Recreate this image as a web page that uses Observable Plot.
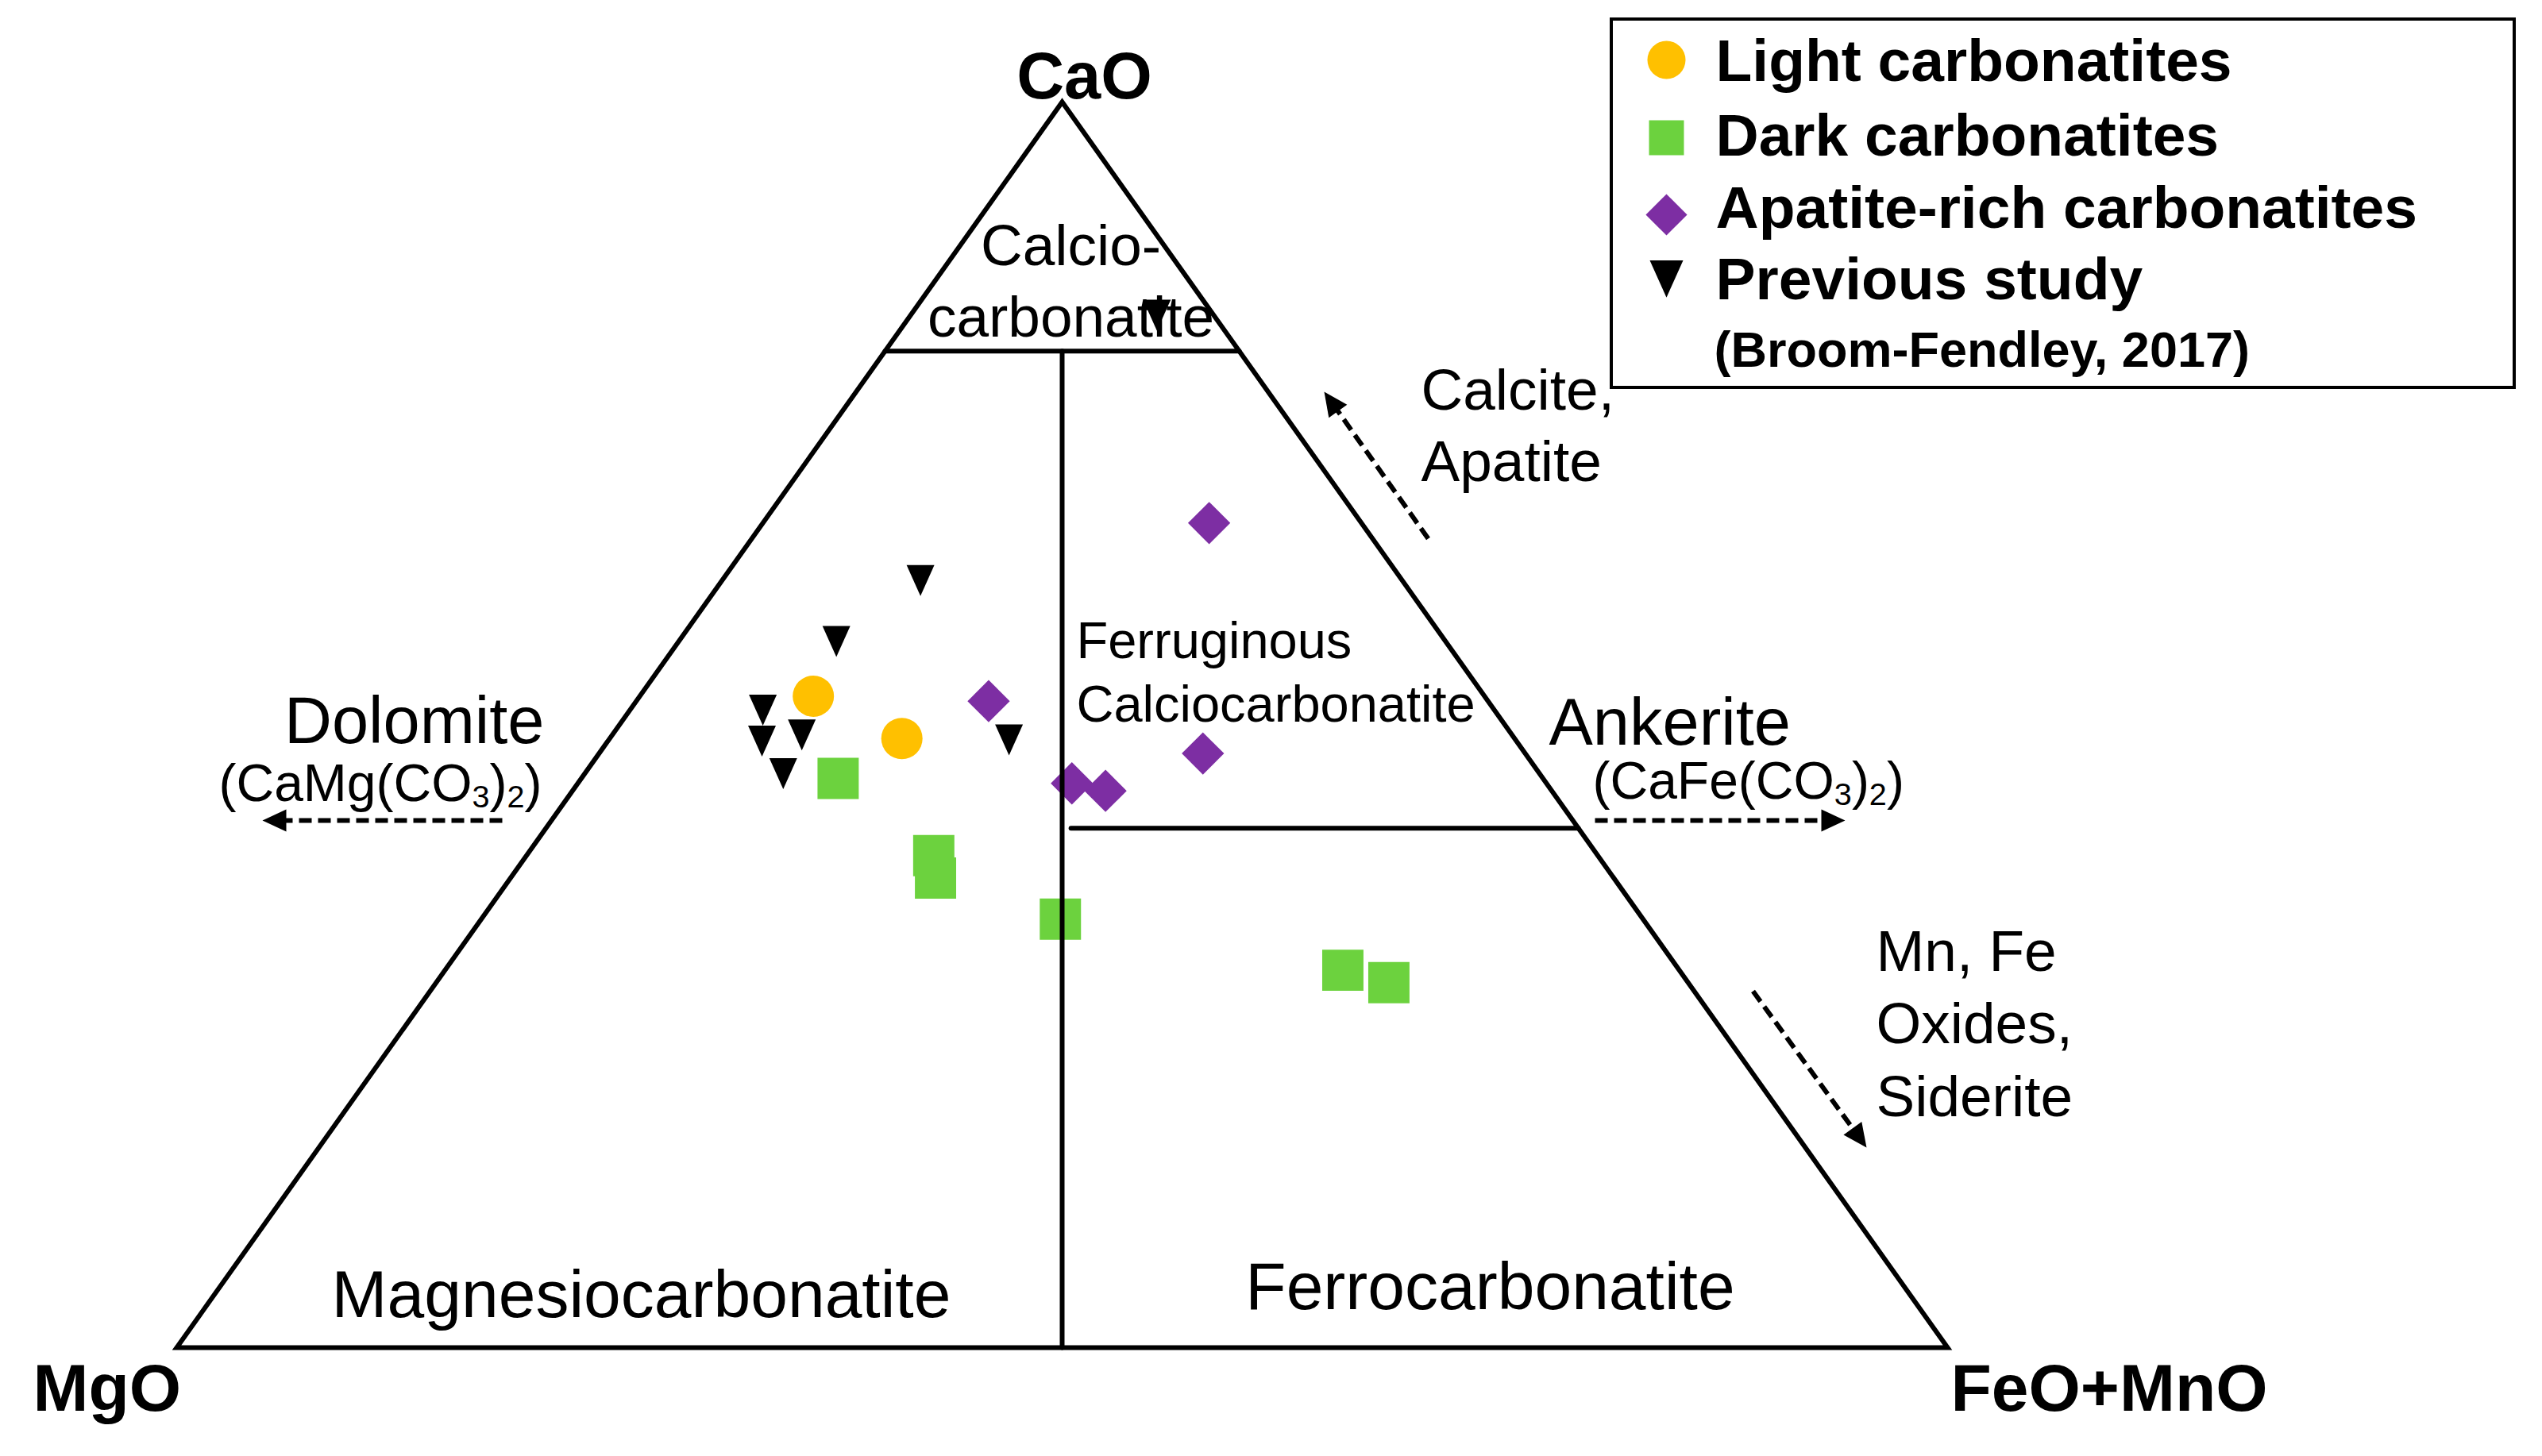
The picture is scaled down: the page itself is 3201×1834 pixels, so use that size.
<!DOCTYPE html>
<html>
<head>
<meta charset="utf-8">
<script src="https://cdn.jsdelivr.net/npm/d3@7"></script>
<script src="https://cdn.jsdelivr.net/npm/@observablehq/plot@0.6"></script>
<style>
  html, body { margin: 0; padding: 0; background: #fff; }
  #chart svg { display: block; }
</style>
</head>
<body>
<div id="chart"></div>
<script>
// ---------- DATA (ternary composition: [CaO, MgO, FeO+MnO], %) ----------
const components = ["CaO", "MgO", "FeO+MnO"];
const seriesNames = ["Light carbonatites", "Dark carbonatites", "Apatite-rich carbonatites", "Previous study"];
const legendNote = "(Broom-Fendley, 2017)";

const lightCarbonatites = [
  [52.3, 37.9, 9.8],
  [48.9, 34.6, 16.5]
];
const darkCarbonatites = [
  [45.7, 39.8, 14.5],
  [39.5, 37.5, 23.0],
  [37.7, 38.3, 24.0],
  [34.4, 32.9, 32.7],
  [30.3, 19.0, 50.7],
  [29.3, 16.9, 53.8]
];
const apatiteRichCarbonatites = [
  [51.9, 28.2, 19.9],
  [45.3, 26.8, 27.9],
  [44.7, 25.2, 30.1],
  [47.7, 18.2, 34.1],
  [66.2, 8.6, 25.2]
];
const previousStudy = [
  [62.0, 27.0, 11.0],
  [57.1, 34.2, 8.7],
  [51.6, 41.1, 7.3],
  [49.1, 42.4, 8.5],
  [49.6, 39.9, 10.5],
  [46.5, 42.5, 11.0],
  [49.2, 28.4, 22.4],
  [83.3, 3.0, 13.7]
];

// classification field boundaries (ternary [CaO, MgO, FeO+MnO])
const outline = [[0, 50, 50], [0, 0, 100], [100, 0, 0], [0, 100, 0], [0, 50, 50]];
const calcioBoundary = [[80, 20, 0], [80, 0, 20]];
const mgFeBoundary = [[80, 10, 10], [0, 50, 50]];
const ferruginousBoundary = [[41.7, 28.65, 29.65], [41.7, 0, 58.3]];

// ---------- LAYOUT ----------
const W = 3201, H = 1834;
const X0 = 222, X1 = 2452, YB = 1697, YT = 128;
const pxToX = px => (px - X0) / (X1 - X0) * 100;
const pyToY = py => (YB - py) / (YB - YT) * 100;
const tx = d => d[2] + d[0] / 2;   // cartesian x from ternary
const ty = d => d[0];              // cartesian y from ternary

const FONT = "'Liberation Sans', Arial, Helvetica, sans-serif";
const colors = { light: "#FFC000", dark: "#6CD23E", apatite: "#7D2EA3", prev: "#000000" };

// custom symbols
const downTriangle = {
  draw(ctx, size) {
    const r = Math.sqrt(size / Math.PI);
    ctx.moveTo(-0.875 * r, -0.65 * r);
    ctx.lineTo(0.875 * r, -0.65 * r);
    ctx.lineTo(0, 1.3 * r);
    ctx.closePath();
  }
};
const arrowHead = {
  draw(ctx, size) {
    const r = Math.sqrt(size / Math.PI);
    ctx.moveTo(0, 0);
    ctx.lineTo(-0.47 * r, r);
    ctx.lineTo(0.47 * r, r);
    ctx.closePath();
  }
};

// annotation arrows (pixel layout: tail -> tip)
const arrowDefs = [
  { from: [632, 1033], to: [330, 1033] },
  { from: [2008, 1033], to: [2323, 1033] },
  { from: [1798, 678], to: [1667, 493] },
  { from: [2207, 1248], to: [2350, 1445] }
].map(a => {
  const dx = a.to[0] - a.from[0], dy = a.to[1] - a.from[1];
  const L = Math.hypot(dx, dy), ux = dx / L, uy = dy / L;
  return {
    x1: pxToX(a.from[0]), y1: pyToY(a.from[1]),
    x2: pxToX(a.to[0] - ux * 24), y2: pyToY(a.to[1] - uy * 24),
    tx: pxToX(a.to[0]), ty: pyToY(a.to[1]),
    angle: Math.atan2(ux, -uy) * 180 / Math.PI
  };
});

const labels = [
  { text: "CaO", px: 1365, py: 123, anchor: "middle", size: 83, weight: "bold" },
  { text: "MgO", px: 41, py: 1776, anchor: "start", size: 84, weight: "bold" },
  { text: "FeO+MnO", px: 2456, py: 1776, anchor: "start", size: 84, weight: "bold" },
  { text: "Calcio-\ncarbonatite", px: 1348, py: 423, anchor: "middle", size: 73, lh: 1.233 },
  { text: "Ferruginous\nCalciocarbonatite", px: 1355, py: 908, anchor: "start", size: 65, lh: 1.23 },
  { text: "Magnesiocarbonatite", px: 807, py: 1658, anchor: "middle", size: 84 },
  { text: "Ferrocarbonatite", px: 1876, py: 1648, anchor: "middle", size: 84 },
  { text: "Dolomite", px: 685, py: 935, anchor: "end", size: 83 },
  { text: "(CaMg(CO₃)₂)", px: 275, py: 1008, anchor: "start", size: 66 },
  { text: "Ankerite", px: 1950, py: 937, anchor: "start", size: 83 },
  { text: "(CaFe(CO₃)₂)", px: 2005, py: 1005, anchor: "start", size: 66 },
  { text: "Calcite,\nApatite", px: 1789, py: 605, anchor: "start", size: 73, lh: 1.233 },
  { text: "Mn, Fe\nOxides,\nSiderite", px: 2362, py: 1405, anchor: "start", size: 73, lh: 1.247 }
];

// legend layout
const legendItems = [
  { name: seriesNames[0], symbol: "circle", r: 24, fill: colors.light, mx: 2098, my: 75, ty: 101 },
  { name: seriesNames[1], symbol: "square", r: 24.8, fill: colors.dark, mx: 2098, my: 173, ty: 195 },
  { name: seriesNames[2], symbol: "diamond2", r: 23.5, fill: colors.apatite, mx: 2098, my: 270, ty: 286 },
  { name: seriesNames[3], symbol: downTriangle, r: 24, fill: colors.prev, mx: 2098, my: 343, ty: 376 }
];

const marks = [];

// data points
marks.push(Plot.dot(lightCarbonatites, { x: tx, y: ty, symbol: "circle", r: 26, fill: colors.light }));
marks.push(Plot.dot(darkCarbonatites, { x: tx, y: ty, symbol: "square", r: 29.3, fill: colors.dark }));
marks.push(Plot.dot(apatiteRichCarbonatites, { x: tx, y: ty, symbol: "diamond2", r: 24, fill: colors.apatite }));
marks.push(Plot.dot(previousStudy, { x: tx, y: ty, symbol: downTriangle, r: 20, fill: colors.prev }));

// field boundaries
for (const seg of [outline, calcioBoundary, mgFeBoundary, ferruginousBoundary]) {
  marks.push(Plot.line(seg, { x: tx, y: ty, stroke: "black", strokeWidth: 6, strokeLinejoin: "miter", strokeMiterlimit: 10 }));
}

// arrows
marks.push(Plot.link(arrowDefs, { x1: "x1", y1: "y1", x2: "x2", y2: "y2", stroke: "black", strokeWidth: 6, strokeDasharray: "16,8" }));
marks.push(Plot.dot(arrowDefs, { x: "tx", y: "ty", symbol: arrowHead, r: 30, fill: "black", rotate: "angle" }));

// labels
for (const l of labels) {
  marks.push(Plot.text([l], {
    x: d => pxToX(d.px), y: d => pyToY(d.py), text: "text",
    textAnchor: l.anchor, lineAnchor: "bottom", lineHeight: l.lh || 1.2,
    fontSize: l.size, fontWeight: l.weight || "normal", fontFamily: FONT, fill: "black"
  }));
}

// legend
marks.push(Plot.rect([0], {
  x1: () => pxToX(2029), x2: () => pxToX(3166), y1: () => pyToY(24), y2: () => pyToY(488),
  fill: "white", stroke: "black", strokeWidth: 4
}));
for (const it of legendItems) {
  marks.push(Plot.dot([it], { x: d => pxToX(d.mx), y: d => pyToY(d.my), symbol: it.symbol, r: it.r, fill: it.fill }));
  marks.push(Plot.text([it], {
    x: () => pxToX(2160), y: d => pyToY(d.ty), text: "name", textAnchor: "start", lineAnchor: "bottom",
    fontSize: 75, fontWeight: "bold", fontFamily: FONT, fill: "black"
  }));
}
marks.push(Plot.text([legendNote], {
  x: () => pxToX(2158), y: () => pyToY(461), text: d => d, textAnchor: "start", lineAnchor: "bottom",
  fontSize: 63, fontWeight: "bold", fontFamily: FONT, fill: "black"
}));

const chart = Plot.plot({
  width: W, height: H,
  marginTop: 0, marginRight: 0, marginBottom: 0, marginLeft: 0,
  x: { domain: [0, 100], range: [X0, X1], axis: null },
  y: { domain: [0, 100], range: [YB, YT], axis: null },
  style: { background: "white", fontFamily: FONT, overflow: "visible" },
  marks
});

// render unicode subscripts as real subscript tspans
const SVGNS = "http://www.w3.org/2000/svg";
chart.querySelectorAll("text").forEach(t => {
  if (t.querySelector("tspan")) return;
  const s = t.textContent;
  if (!/[\u2080-\u2089]/.test(s)) return;
  t.textContent = "";
  let shifted = false;
  for (const part of s.match(/[\u2080-\u2089]+|[^\u2080-\u2089]+/g)) {
    const ts = document.createElementNS(SVGNS, "tspan");
    if (/[\u2080-\u2089]/.test(part)) {
      ts.textContent = [...part].map(c => String.fromCharCode(c.charCodeAt(0) - 0x2080 + 48)).join("");
      ts.setAttribute("font-size", "0.6em");
      ts.setAttribute("dy", "8");
      shifted = true;
    } else {
      ts.textContent = part;
      if (shifted) { ts.setAttribute("dy", "-8"); shifted = false; }
    }
    t.appendChild(ts);
  }
});

document.getElementById("chart").appendChild(chart);
</script>
</body>
</html>
